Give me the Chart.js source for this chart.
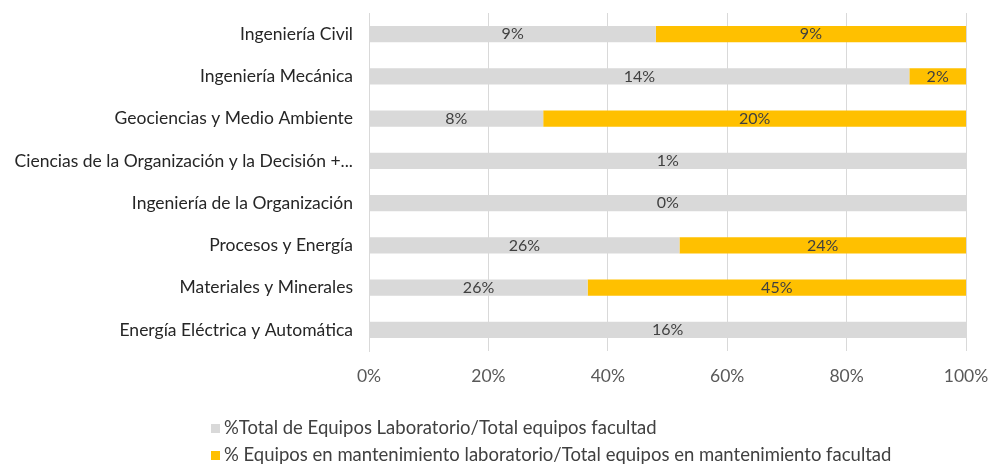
<!DOCTYPE html>
<html>
<head>
<meta charset="utf-8">
<script src="https://cdn.jsdelivr.net/npm/chart.js@4.4.0/dist/chart.umd.min.js"></script>
<style>
  html, body { margin: 0; padding: 0; background: #fff; }
  #wrap { position: relative; width: 992px; height: 466px; }
  #legend { position: absolute; left: 211px; top: 414px; font-family: Lato, sans-serif; font-size: 18.5px; color: #404040; line-height: 27px; }
  #legend span.box { display: inline-block; width: 9px; height: 9px; margin-right: 4px; vertical-align: 1px; }
</style>
</head>
<body>
<div id="wrap">
  <canvas id="chart" width="992" height="466"></canvas>
  <div id="legend"></div>
</div>
<script>
// categories, top to bottom
const categories = [
    'Ingeniería Civil',
    'Ingeniería Mecánica',
    'Geociencias y Medio Ambiente',
    'Ciencias de la Organización y la Decisión +...',
    'Ingeniería de la Organización',
    'Procesos y Energía',
    'Materiales y Minerales',
    'Energía Eléctrica y Automática'
];
const seriesNames = [
    '%Total de Equipos Laboratorio/Total equipos facultad',
    '% Equipos en mantenimiento laboratorio/Total equipos en mantenimiento facultad'
];
// raw shares shown as labels (%)
const labTotal = [8.6, 14.3, 8.2, 1, 0.3, 26, 26, 16];
const maintTotal = [9.3, 1.5, 19.9, 0, 0, 24, 45, 0];
const xTicks = [0, 20, 40, 60, 80, 100];
const colors = ['#d9d9d9', '#ffc000'];

// 100% stacked: each bar normalised to its row total
const rowSum = labTotal.map((v, i) => v + maintTotal[i]);
const labPct = labTotal.map((v, i) => v / rowSum[i] * 100);
const maintPct = maintTotal.map((v, i) => v / rowSum[i] * 100);
const rawValues = [labTotal, maintTotal];

const barLabels = {
    id: 'barLabels',
    afterDatasetsDraw(chart) {
        const ctx = chart.ctx;
        ctx.save();
        ctx.font = '16px Lato, sans-serif';
        ctx.fillStyle = '#404040';
        ctx.textAlign = 'center';
        ctx.textBaseline = 'middle';
        chart.data.datasets.forEach((ds, di) => {
            chart.getDatasetMeta(di).data.forEach((bar, i) => {
                const raw = rawValues[di][i];
                if (!raw) return;
                const cx = (bar.x + bar.base) / 2;
                ctx.fillText(Math.round(raw) + '%', cx, bar.y);
            });
        });
        ctx.restore();
    }
};

const chart = new Chart(document.getElementById('chart'), {
    type: 'bar',
    data: {
        labels: categories,
        datasets: [
            { label: seriesNames[0], data: labPct, backgroundColor: colors[0] },
            { label: seriesNames[1], data: maintPct, backgroundColor: colors[1] }
        ]
    },
    options: {
        indexAxis: 'y',
        responsive: false,
        animation: false,
        barPercentage: 0.78,
        categoryPercentage: 0.5,
        layout: { padding: { top: 13, right: 26, left: 0, bottom: 0 } },
        plugins: {
            legend: { display: false },
            tooltip: { enabled: false }
        },
        scales: {
            x: {
                stacked: true,
                min: 0,
                max: 100,
                afterBuildTicks: s => { s.ticks = xTicks.map(v => ({ value: v })); },
                afterFit: s => { s.height = 115; s.paddingLeft = 0; s.paddingRight = 0; },
                grid: { color: '#d9d9d9', drawTicks: false },
                border: { display: false },
                ticks: {
                    padding: 15,
                    color: '#595959',
                    font: { family: 'Lato, sans-serif', size: 17.5 },
                    callback: v => v + '%'
                }
            },
            y: {
                stacked: true,
                afterFit: s => { s.width = 369; s.paddingTop = 0; s.paddingBottom = 0; },
                grid: { display: false },
                border: { display: true, color: '#d9d9d9' },
                ticks: {
                    padding: 8,
                    color: '#262626',
                    font: { family: 'Lato, sans-serif', size: 17.5 }
                }
            }
        }
    },
    plugins: [barLabels]
});

document.getElementById('legend').innerHTML = seriesNames.map((n, i) =>
    '<div><span class="box" style="background:' + colors[i] + '"></span>' + n + '</div>').join('');
</script>
</body>
</html>
